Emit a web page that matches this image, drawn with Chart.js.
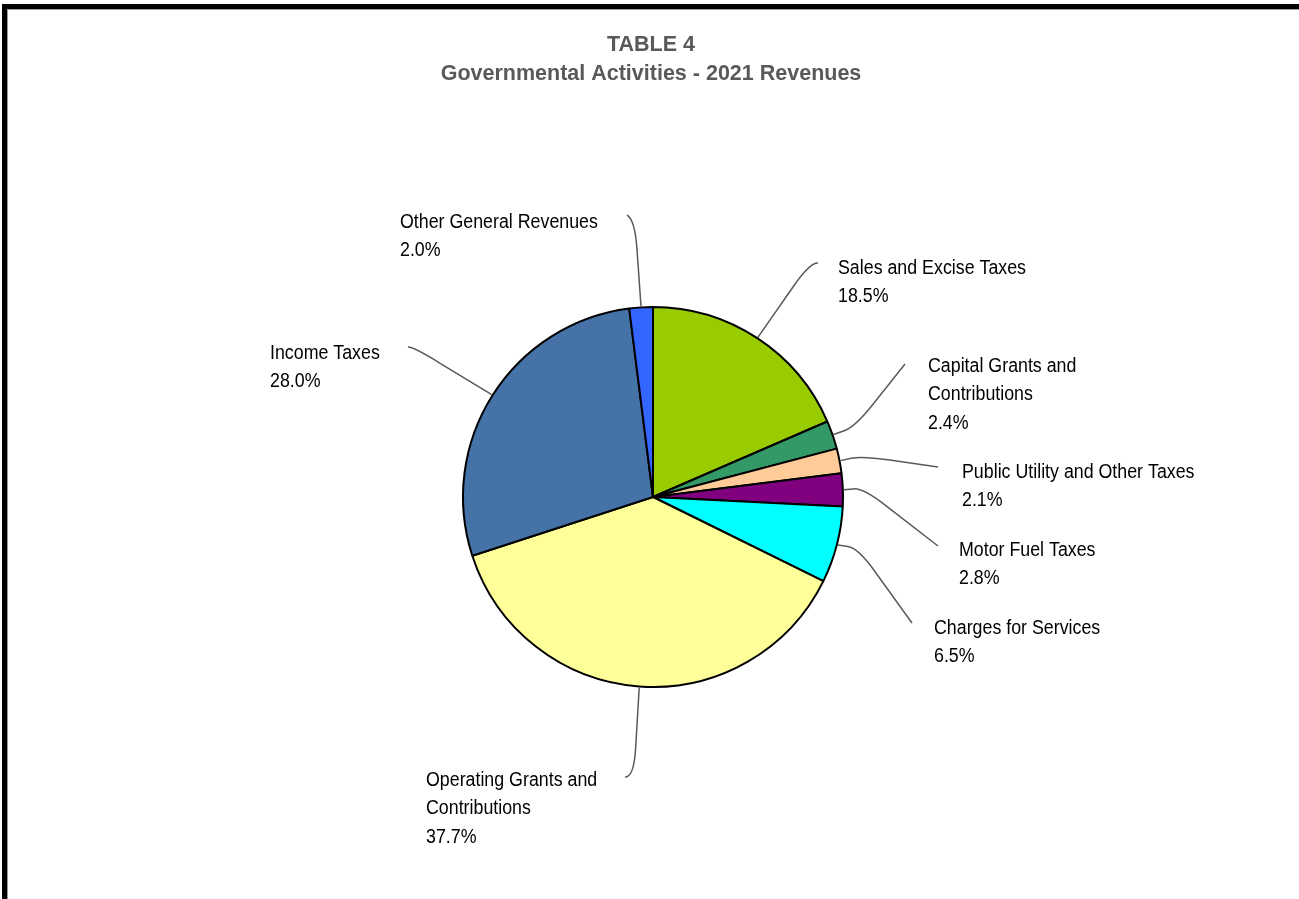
<!DOCTYPE html>
<html>
<head>
<meta charset="utf-8">
<script src="https://cdn.jsdelivr.net/npm/chart.js@4.4.0/dist/chart.umd.min.js"></script>
<style>
html, body { margin: 0; padding: 0; background: #fff; overflow: hidden; }
#wrap { position: absolute; left: 0; top: 0; width: 1299px; height: 899px; }
#frame { position: absolute; left: 2px; top: 4px; width: 1310px; height: 940px;
  border: 5px solid #000; box-shadow: inset 1px 1px 0 #9a9a9a; pointer-events: none; }
</style>
</head>
<body>
<div id="wrap"><canvas id="revChart"></canvas></div>
<div id="frame"></div>
<script>
var titleLines = ['TABLE 4', 'Governmental Activities - 2021 Revenues'];

var categories = [
  'Sales and Excise Taxes',
  'Capital Grants and Contributions',
  'Public Utility and Other Taxes',
  'Motor Fuel Taxes',
  'Charges for Services',
  'Operating Grants and Contributions',
  'Income Taxes',
  'Other General Revenues'
];
var values = [18.5, 2.4, 2.1, 2.8, 6.5, 37.7, 28.0, 2.0];
var colors = ['#99CC00', '#339966', '#FFCC99', '#800080', '#00FFFF', '#FFFF99', '#4673A7', '#3366FF'];

// where each label sits and how its leader line bends (knee -> end near the text)
var labelLayout = [
  {x: 838, y: 268, wrap: 0,   knee: [809, 264], end: [818, 263]},
  {x: 928, y: 366, wrap: 200, knee: [855, 427], end: [905, 364]},
  {x: 962, y: 472, wrap: 0,   knee: [862, 456], end: [938, 467]},
  {x: 959, y: 550, wrap: 0,   knee: [863, 488], end: [938, 546]},
  {x: 934, y: 628, wrap: 0,   knee: [858, 548], end: [912, 623]},
  {x: 426, y: 780, wrap: 200, knee: [634, 776], end: [625, 777]},
  {x: 270, y: 353, wrap: 0,   knee: [415, 348], end: [408, 347]},
  {x: 400, y: 222, wrap: 0,   knee: [635, 221], end: [627, 215]}
];

var TEXT_SQUEEZE = 0.89;
var LINE_GAP = 28.5;

function squeezedText(ctx, txt, x, y) {
  ctx.save();
  ctx.translate(x, y);
  ctx.scale(TEXT_SQUEEZE, 1);
  ctx.fillText(txt, 0, 0);
  ctx.restore();
}

function wrapWords(ctx, txt, maxW) {
  if (!maxW) return [txt];
  var words = txt.split(' ');
  var lines = [];
  var cur = '';
  words.forEach(function (w) {
    var test = cur ? cur + ' ' + w : w;
    if (cur && ctx.measureText(test).width * TEXT_SQUEEZE > maxW) {
      lines.push(cur);
      cur = w;
    } else {
      cur = test;
    }
  });
  if (cur) lines.push(cur);
  return lines;
}

// point on segment from k toward p, d pixels away from k
function along(k, p, d) {
  var dx = p[0] - k[0], dy = p[1] - k[1];
  var len = Math.sqrt(dx * dx + dy * dy) || 1;
  return [k[0] + dx / len * d, k[1] + dy / len * d, len];
}

var labelPlugin = {
  id: 'pieLabels',
  afterDraw: function (chart) {
    var ctx = chart.ctx;
    // title
    ctx.save();
    ctx.fillStyle = '#595959';
    ctx.font = 'bold 21.5px "Liberation Sans", Arial, sans-serif';
    ctx.textAlign = 'center';
    ctx.textBaseline = 'middle';
    ctx.fillText(titleLines[0], 651, 45);
    ctx.fillText(titleLines[1], 651, 74);
    ctx.restore();

    var meta = chart.getDatasetMeta(0);
    ctx.save();
    meta.data.forEach(function (arc, i) {
      var lay = labelLayout[i];
      var mid = (arc.startAngle + arc.endAngle) / 2;
      var r = arc.outerRadius + 1;
      var s = [arc.x + Math.cos(mid) * r, arc.y + Math.sin(mid) * r];

      // leader line with a soft bend at the knee
      var l1 = along(lay.knee, s, 0)[2];
      var l2 = along(lay.knee, lay.end, 0)[2];
      var t1 = along(lay.knee, s, Math.min(28, l1 * 0.5));
      var t2 = along(lay.knee, lay.end, Math.min(28, l2 * 0.9));
      ctx.strokeStyle = '#595959';
      ctx.lineWidth = 1.5;
      ctx.beginPath();
      ctx.moveTo(s[0], s[1]);
      ctx.lineTo(t1[0], t1[1]);
      ctx.quadraticCurveTo(lay.knee[0], lay.knee[1], t2[0], t2[1]);
      ctx.lineTo(lay.end[0], lay.end[1]);
      ctx.stroke();

      ctx.fillStyle = '#000';
      ctx.font = '20px "Liberation Sans", Arial, sans-serif';
      ctx.textAlign = 'left';
      ctx.textBaseline = 'middle';
      var lines = wrapWords(ctx, categories[i], lay.wrap);
      lines.push(values[i].toFixed(1) + '%');
      lines.forEach(function (ln, k) {
        squeezedText(ctx, ln, lay.x, lay.y + k * LINE_GAP);
      });
    });
    ctx.restore();
  }
};

var revCanvas = document.getElementById('revChart').getContext('2d');
var revChart = new Chart(revCanvas, {
  type: 'pie',
  data: {
    labels: categories,
    datasets: [{
      data: values,
      backgroundColor: colors,
      borderColor: '#000',
      borderWidth: 2,
      radius: 190
    }]
  },
  options: {
    responsive: true,
    maintainAspectRatio: false,
    animation: false,
    layout: { padding: { left: 453, right: 446, top: 297, bottom: 202 } },
    plugins: {
      legend: { display: false },
      tooltip: { enabled: false },
      title: { display: false }
    }
  },
  plugins: [labelPlugin]
});
</script>
</body>
</html>
